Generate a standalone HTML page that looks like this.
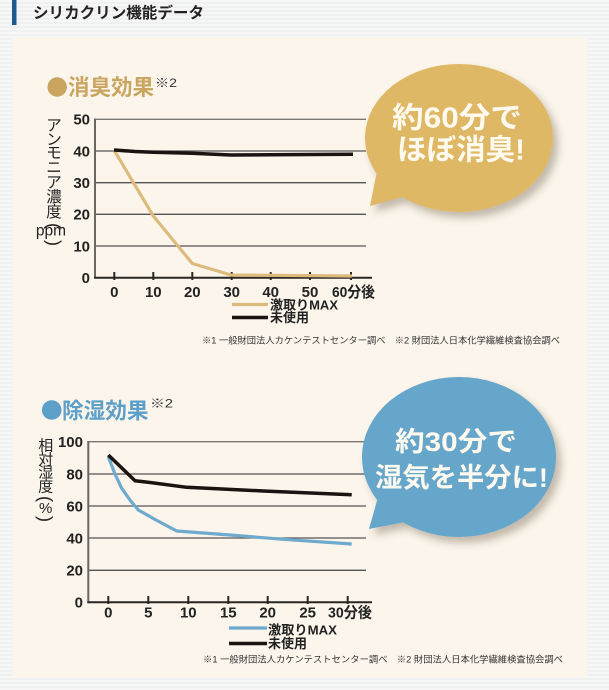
<!DOCTYPE html>
<html><head><meta charset="utf-8">
<style>
html,body{margin:0;padding:0;width:609px;height:690px;overflow:hidden;background:#f3f4f4;}
svg{display:block}
text{font-family:"Liberation Sans","Noto Sans CJK JP",sans-serif;}
</style></head><body>
<svg width="609" height="690" viewBox="0 0 609 690" xmlns="http://www.w3.org/2000/svg">
<defs>
<pattern id="st" width="4" height="4" patternUnits="userSpaceOnUse"><rect width="4" height="4" fill="#f7f7f7"/><rect y="2" width="4" height="2" fill="#eff0f0"/></pattern>
<filter id="sh" x="-20%" y="-20%" width="150%" height="150%"><feDropShadow dx="5" dy="6" stdDeviation="4" flood-color="#5a4a30" flood-opacity="0.35"/></filter>
</defs>
<rect width="609" height="690" fill="url(#st)"/>
<rect x="12" y="0" width="4.5" height="25" fill="#1d5b8d"/>
<text x="33" y="18" font-size="15.5" font-weight="bold" fill="#222" textLength="171" lengthAdjust="spacingAndGlyphs">シリカクリン機能データ</text>
<rect x="13" y="37" width="574" height="640" fill="#fbf5eb"/>

<!-- ===== Chart 1 ===== -->
<circle cx="57.2" cy="87" r="9.7" fill="#c9a560"/>
<text x="68" y="95" font-size="22" font-weight="bold" fill="#c9a560" textLength="86" lengthAdjust="spacingAndGlyphs">消臭効果</text>
<text x="155" y="87" font-size="12" fill="#333" textLength="22" lengthAdjust="spacingAndGlyphs">※2</text>

<g font-size="15.5" fill="#222" text-anchor="middle">
<text x="54" y="130.7">ア</text>
<text x="54" y="144.5">ン</text>
<text x="54" y="158">モ</text>
<text x="54" y="172.7">ニ</text>
<text x="54" y="187.5">ア</text>
<text x="54" y="202">濃</text>
<text x="54" y="217">度</text>
<text transform="translate(54,226) rotate(90)" dominant-baseline="central" font-size="18">(</text>
<text x="51" y="235.5">ppm</text>
<text transform="translate(54,243) rotate(90)" dominant-baseline="central" font-size="18">)</text>
</g>

<g stroke-width="1.3">
<line x1="95" y1="119.3" x2="366" y2="119.3" stroke="#7a7670"/>
<line x1="95" y1="151" x2="366" y2="151" stroke="#555"/>
<line x1="95" y1="182.7" x2="366" y2="182.7" stroke="#555"/>
<line x1="95" y1="214.3" x2="366" y2="214.3" stroke="#555"/>
<line x1="95" y1="246" x2="366" y2="246" stroke="#555"/>
</g>
<line x1="95" y1="118.5" x2="95" y2="278.5" stroke="#6a6660" stroke-width="2"/>
<line x1="94" y1="277.7" x2="372" y2="277.7" stroke="#2a2622" stroke-width="2"/>
<g stroke="#2a2622" stroke-width="2">
<line x1="114.3" y1="272" x2="114.3" y2="280"/>
<line x1="153.3" y1="272" x2="153.3" y2="280"/>
<line x1="192.3" y1="272" x2="192.3" y2="280"/>
<line x1="231.7" y1="272" x2="231.7" y2="280"/>
<line x1="270.7" y1="272" x2="270.7" y2="280"/>
<line x1="310" y1="272" x2="310" y2="280"/>
<line x1="351" y1="272" x2="351" y2="280"/>
</g>
<g font-size="15" font-weight="bold" fill="#222" text-anchor="end">
<text x="90" y="124.7">50</text>
<text x="90" y="156.4">40</text>
<text x="90" y="188.1">30</text>
<text x="90" y="219.7">20</text>
<text x="90" y="251.4">10</text>
<text x="90" y="283.1">0</text>
</g>
<g font-size="15" font-weight="bold" fill="#222" text-anchor="middle">
<text x="114.3" y="297">0</text>
<text x="153.3" y="297">10</text>
<text x="192.3" y="297">20</text>
<text x="231.7" y="297">30</text>
<text x="270.7" y="297">40</text>
<text x="310" y="297">50</text>
</g>
<text x="332" y="297" font-size="15" font-weight="bold" fill="#222" textLength="43" lengthAdjust="spacingAndGlyphs">60分後</text>

<polyline points="114.3,150.5 153.3,216 192.3,263.5 231,275 352,276" fill="none" stroke="#dcbb7c" stroke-width="3.2" stroke-linejoin="round"/>
<polyline points="114,150 135,151.5 153,152.3 192,153.3 231,155 270,154.8 310,154.5 353,154.2" fill="none" stroke="#1a1410" stroke-width="3.5" stroke-linejoin="round"/>

<line x1="232" y1="304.5" x2="268" y2="304.5" stroke="#dcbb7c" stroke-width="3.2"/>
<line x1="232" y1="317.5" x2="268" y2="317.5" stroke="#1a1410" stroke-width="3.5"/>
<text x="270" y="309.5" font-size="13" font-weight="bold" fill="#222" textLength="68" lengthAdjust="spacingAndGlyphs">激取りMAX</text>
<text x="270" y="322" font-size="13" font-weight="bold" fill="#222" textLength="39" lengthAdjust="spacingAndGlyphs">未使用</text>
<text x="202" y="343.5" font-size="9" fill="#333" textLength="358" lengthAdjust="spacingAndGlyphs">※1 一般財団法人カケンテストセンター調べ　※2 財団法人日本化学繊維検査協会調べ</text>

<!-- Bubble 1 -->
<g filter="url(#sh)" fill="#dfb865">
<ellipse cx="459" cy="138" rx="94" ry="74"/>
<polygon points="378,166 370,206 402,197 420,180"/>
</g>
<g font-size="29" font-weight="bold" fill="#fffaf0" text-anchor="middle">
<text x="457" y="127.5" textLength="130" lengthAdjust="spacingAndGlyphs">約60分で</text>
<text x="461" y="159.5" textLength="128" lengthAdjust="spacingAndGlyphs">ほぼ消臭!</text>
</g>

<!-- ===== Chart 2 ===== -->
<circle cx="51.7" cy="410" r="9.8" fill="#5c9fc8"/>
<text x="62" y="418.5" font-size="22" font-weight="bold" fill="#5c9fc8" textLength="86.5" lengthAdjust="spacingAndGlyphs">除湿効果</text>
<text x="150" y="407.5" font-size="12" fill="#333" textLength="23" lengthAdjust="spacingAndGlyphs">※2</text>

<g font-size="15" fill="#222" text-anchor="middle">
<text x="45.7" y="450.5">相</text>
<text x="45.7" y="464.3">対</text>
<text x="45.7" y="477.7">湿</text>
<text x="45.7" y="491.5">度</text>
<text transform="translate(45.7,499) rotate(90)" dominant-baseline="central" font-size="18">(</text>
<text x="45.7" y="513">%</text>
<text transform="translate(45.7,519) rotate(90)" dominant-baseline="central" font-size="18">)</text>
</g>

<g stroke-width="1.3">
<line x1="88.3" y1="441.7" x2="366" y2="441.7" stroke="#7a7670"/>
<line x1="88.3" y1="474" x2="366" y2="474" stroke="#555"/>
<line x1="88.3" y1="506" x2="366" y2="506" stroke="#555"/>
<line x1="88.3" y1="538" x2="366" y2="538" stroke="#555"/>
<line x1="88.3" y1="570.3" x2="366" y2="570.3" stroke="#555"/>
</g>
<line x1="88.3" y1="441" x2="88.3" y2="603" stroke="#6a6660" stroke-width="2"/>
<line x1="87.3" y1="602.3" x2="372" y2="602.3" stroke="#2a2622" stroke-width="2"/>
<g stroke="#2a2622" stroke-width="2">
<line x1="108.3" y1="596" x2="108.3" y2="604"/>
<line x1="148.3" y1="596" x2="148.3" y2="604"/>
<line x1="188.3" y1="596" x2="188.3" y2="604"/>
<line x1="228.3" y1="596" x2="228.3" y2="604"/>
<line x1="267.7" y1="596" x2="267.7" y2="604"/>
<line x1="307.7" y1="596" x2="307.7" y2="604"/>
<line x1="347.7" y1="596" x2="347.7" y2="604"/>
</g>
<g font-size="15" font-weight="bold" fill="#222" text-anchor="end">
<text x="83" y="447.1">100</text>
<text x="83" y="479.4">80</text>
<text x="83" y="511.4">60</text>
<text x="83" y="543.4">40</text>
<text x="83" y="575.7">20</text>
<text x="83" y="607.7">0</text>
</g>
<g font-size="15" font-weight="bold" fill="#222" text-anchor="middle">
<text x="108.3" y="617.5">0</text>
<text x="148.3" y="617.5">5</text>
<text x="188.3" y="617.5">10</text>
<text x="228.3" y="617.5">15</text>
<text x="267.7" y="617.5">20</text>
<text x="307.7" y="617.5">25</text>
</g>
<text x="328" y="617.5" font-size="15" font-weight="bold" fill="#222" textLength="44" lengthAdjust="spacingAndGlyphs">30分後</text>

<polyline points="108.3,456.7 115,474 121.7,488.3 130,500 138.3,510 156,520 176.7,531 230,535 283.3,539.3 351.7,544" fill="none" stroke="#6eaacd" stroke-width="3.2" stroke-linejoin="round"/>
<polyline points="108.3,455 135,480.7 150,482.5 186.7,487.3 263.3,491 351.7,494.7" fill="none" stroke="#1a1410" stroke-width="3.5" stroke-linejoin="round"/>

<line x1="229" y1="628" x2="267" y2="628" stroke="#6eaacd" stroke-width="3.2"/>
<line x1="229" y1="643.5" x2="267" y2="643.5" stroke="#1a1410" stroke-width="3.5"/>
<text x="268" y="634.5" font-size="13" font-weight="bold" fill="#222" textLength="69" lengthAdjust="spacingAndGlyphs">激取りMAX</text>
<text x="268" y="648" font-size="13" font-weight="bold" fill="#222" textLength="39" lengthAdjust="spacingAndGlyphs">未使用</text>
<text x="203" y="662.5" font-size="9" fill="#333" textLength="360" lengthAdjust="spacingAndGlyphs">※1 一般財団法人カケンテストセンター調べ　※2 財団法人日本化学繊維検査協会調べ</text>

<!-- Bubble 2 -->
<g filter="url(#sh)" fill="#66a6cb">
<ellipse cx="459" cy="457" rx="97" ry="80"/>
<polygon points="380,490 369,529 405,522 425,505"/>
</g>
<g font-size="27" font-weight="bold" fill="#fffaf0" text-anchor="middle">
<text x="456" y="451" textLength="122" lengthAdjust="spacingAndGlyphs">約30分で</text>
<text x="461.5" y="487" textLength="173" lengthAdjust="spacingAndGlyphs">湿気を半分に!</text>
</g>
</svg>
</body></html>
